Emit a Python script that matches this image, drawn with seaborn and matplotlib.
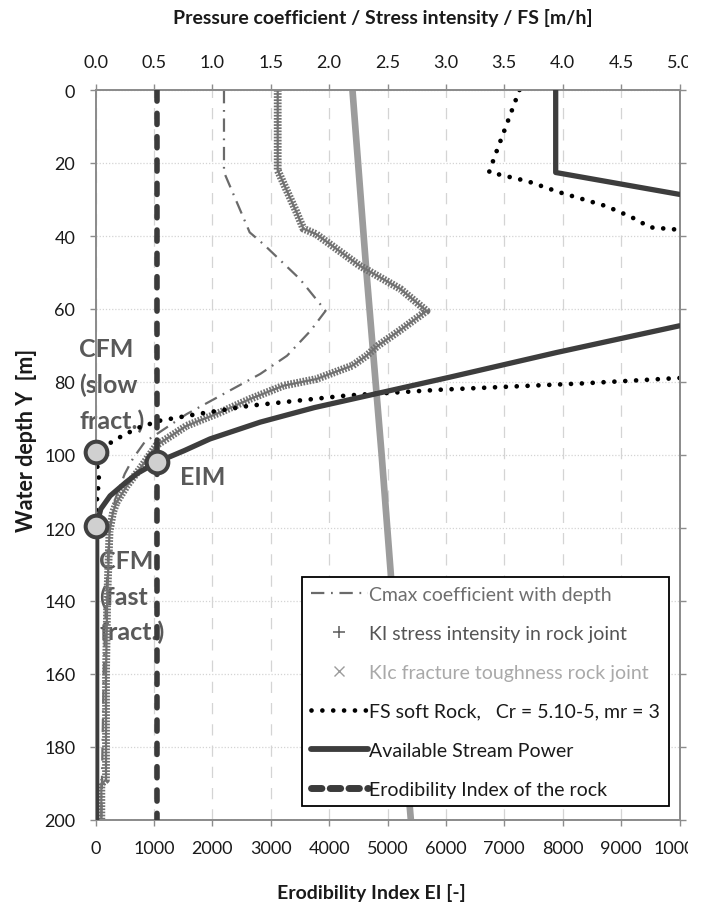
import numpy as np
import pandas as pd
import matplotlib
matplotlib.use("Agg")
import matplotlib.pyplot as plt
import seaborn as sns
from matplotlib.lines import Line2D
from matplotlib.transforms import Bbox, TransformedBbox

# ---------------- data ----------------
# Top axis series (Pressure coefficient / Stress intensity / FS)
cmax_depth = [0, 22.5, 39, 42.3, 51.8, 60.5, 66, 72.8, 77.8, 88.8, 96.5, 101, 105.2, 112, 120, 140, 160, 180, 200]
cmax_value = [1.10, 1.10, 1.32, 1.44, 1.75, 1.97, 1.84, 1.64, 1.41, 0.78, 0.42, 0.32, 0.25, 0.17, 0.12, 0.09, 0.07, 0.06, 0.05]

ki_depth = [0, 22, 33.4, 38, 39.5, 48.1, 54.5, 60.5, 66, 70, 72.8, 75.5, 79.2, 81, 84.7, 88.3, 92,
            97.4, 103.8, 108.4, 113, 115.7, 121, 140, 160, 189, 190, 200]
ki_value = [1.56, 1.56, 1.72, 1.78, 1.89, 2.26, 2.61, 2.835, 2.60, 2.42, 2.32, 2.20, 1.89, 1.61, 1.32, 1.07, 0.78,
            0.52, 0.38, 0.27, 0.18, 0.15, 0.12, 0.10, 0.09, 0.09, 0.05, 0.05]

kic_depth = [0, 50, 100, 150, 200]
kic_value = [2.20, 2.32, 2.45, 2.57, 2.70]

fs_depth_upper = [0, 6, 12, 18, 22.5, 25, 28, 31.8, 34.4, 35.8, 37.6, 38.3]
fs_value_upper = [3.63, 3.56, 3.49, 3.42, 3.37, 3.70, 3.97, 4.37, 4.56, 4.65, 4.74, 5.0]
fs_depth_lower = [78.9, 80.4, 82.1, 83.7, 86.5, 88.8, 90.6, 92.6, 95.6, 99.3, 106.6, 113, 119.4]
fs_value_lower = [5.0, 4.16, 2.96, 2.15, 1.32, 0.87, 0.55, 0.36, 0.18, 0.0, 0.03, 0.01, 0.0]

# Bottom axis series (Erodibility Index EI)
sp_depth_upper = [0, 22.6, 28.6]
sp_value_upper = [7880, 7880, 10000]
sp_depth_lower = [64.6, 71.9, 78.7, 83.3, 87.0, 91.0, 95.6, 98.8, 102, 105, 107.5, 111.2, 114.8, 119.4, 200]
sp_value_lower = [10000, 7900, 6060, 4780, 3750, 2820, 1960, 1520, 1048, 720, 520, 250, 90, 20, 20]

ei_depth = [0, 200]
ei_value = [1050, 1050]

point_ei = [0, 1050, 0]
point_depth = [99.3, 102.0, 119.4]

top_ticks = [0.0, 0.5, 1.0, 1.5, 2.0, 2.5, 3.0, 3.5, 4.0, 4.5, 5.0]
bottom_ticks = [0, 1000, 2000, 3000, 4000, 5000, 6000, 7000, 8000, 9000, 10000]
depth_ticks = [0, 20, 40, 60, 80, 100, 120, 140, 160, 180, 200]

# ---------------- style ----------------
sns.set_theme(style="white")
plt.rcParams["font.family"] = ["Lato", "DejaVu Sans"]

C_CMAX = "#6a6a6a"
C_KI = "#727272"
C_KIC = "#9c9c9c"
C_FS = "#000000"
C_SP = "#3d3d3d"
C_EI = "#3b3b3b"
C_AX = "#8c8c8c"
C_TXT = "#595959"

W, H = 708, 904
fig = plt.figure(figsize=(W / 100, H / 100), dpi=100)
L, R, T, B = 95.5, 679.5, 91, 821
ax = fig.add_axes([L / W, 1 - B / H, (R - L) / W, (B - T) / H])
ax2 = ax.twiny()


def seg_df(depths, values, seg):
    return pd.DataFrame({"depth": depths, "value": values, "seg": seg})


# ---- top-axis series on ax ----
sns.lineplot(data=seg_df(kic_depth, kic_value, 0), x="value", y="depth", sort=False, orient="y",
             estimator=None, color=C_KIC, lw=4.8, ax=ax, zorder=2)
sns.lineplot(data=seg_df(cmax_depth, cmax_value, 0), x="value", y="depth", sort=False, orient="y",
             estimator=None, color=C_CMAX, lw=1.6, ls=(0, (6, 3, 0.8, 3)), ax=ax, zorder=3)
ki_df = seg_df(ki_depth, ki_value, 0)
# dense "+" marker band: ladder of short strokes plus a thin core
sns.lineplot(data=ki_df, x="value", y="depth", sort=False, orient="y", estimator=None,
             color=C_KI, lw=5.6, ls=(0, (0.22, 0.18)), dash_capstyle="butt", ax=ax, zorder=3)
sns.lineplot(data=ki_df, x="value", y="depth", sort=False, orient="y", estimator=None,
             color=C_KI, lw=1.6, ax=ax, zorder=3)
fs_df = pd.concat([seg_df(fs_depth_upper, fs_value_upper, 0), seg_df(fs_depth_lower, fs_value_lower, 1)])
sns.lineplot(data=fs_df, x="value", y="depth", units="seg", sort=False, orient="y",
             estimator=None, color=C_FS, lw=3.4, ls=(0, (0.001, 2.3)), dash_capstyle="round",
             ax=ax, zorder=4)

# ---- EI-axis series on ax2 ----
sp_df = pd.concat([seg_df(sp_depth_upper, sp_value_upper, 0), seg_df(sp_depth_lower, sp_value_lower, 1)])
sns.lineplot(data=sp_df, x="value", y="depth", units="seg", sort=False, orient="y",
             estimator=None, color=C_SP, lw=3.8, ax=ax2, zorder=3)
sns.lineplot(data=seg_df(ei_depth, ei_value, 0), x="value", y="depth", sort=False, orient="y",
             estimator=None, color=C_EI, lw=4.0, ls=(0, (2.0, 2.2)), dash_capstyle="round",
             ax=ax2, zorder=3)
sns.scatterplot(x=point_ei, y=point_depth, s=15.6 ** 2, color="#d0d0d0", edgecolor="#404040",
                linewidth=2.9, ax=ax2, zorder=5, clip_on=False)

# ---- axes setup ----
ax.set_xlim(0, 5)
ax2.set_xlim(0, 10000)
ax.set_ylim(200, 0)
ax.xaxis.tick_top()
ax2.xaxis.tick_bottom()
ax.set_xticks(top_ticks)
ax.set_xticklabels([f"{t:.1f}" for t in top_ticks])
ax2.set_xticks(bottom_ticks)
ax2.set_xticklabels([str(t) for t in bottom_ticks])
ax.set_yticks(depth_ticks)
for a in (ax, ax2):
    a.set_xlabel("")
    a.set_ylabel("")

for a in (ax, ax2):
    for s in a.spines.values():
        s.set_color(C_AX)
        s.set_linewidth(1.3)
    a.tick_params(direction="out", length=4.5, width=1.0, color=C_AX, pad=10,
                  labelsize=13, labelcolor="#1a1a1a")
ax.tick_params(axis="y", left=True, right=True, labelleft=True, labelright=False)
ax.tick_params(axis="x", top=True, bottom=False, labeltop=True, labelbottom=False)
ax2.tick_params(axis="x", top=False, bottom=True, labeltop=False, labelbottom=True)

ax.grid(axis="x", color="#d4d4d4", lw=0.9, ls=(0, (9, 8)))
ax.grid(axis="y", color="#d4d4d4", lw=0.9, ls=(0, (1, 1.5)))
ax.set_axisbelow(True)

# ---- annotations ----
tk = dict(fontsize=18, fontweight="bold", color=C_TXT, ha="left", va="baseline", zorder=1.5)
ax.text(-0.141, 72.9, "CFM", **tk)
ax.text(-0.141, 82.8, "(slow", **tk)
ax.text(-0.141, 92.6, "fract.)", **tk)
ax.text(0.723, 108.0, "EIM", **tk)
ax.text(0.03, 131.0, "CFM", **tk)
ax.text(0.03, 140.8, "(fast", **tk)
ax.text(0.03, 150.4, "fract.)", **tk)

# ---- axis titles ----
fig.text(382.5 / W, 1 - 18 / H, "Pressure coefficient / Stress intensity / FS [m/h]",
         ha="center", va="center", fontsize=14, fontweight="bold", color="#1a1a1a")
fig.text(371 / W, 1 - 893 / H, "Erodibility Index EI [-]",
         ha="center", va="center", fontsize=14, fontweight="bold", color="#1a1a1a")
fig.text(27 / W, 1 - 440 / H, "Water depth Y  [m]", rotation=90,
         ha="center", va="center", fontsize=15.5, fontweight="bold", color="#1a1a1a")

# ---- legend ----
handles = [
    Line2D([], [], color=C_CMAX, lw=1.6, ls=(0, (6, 3, 0.8, 3))),
    Line2D([], [], color="#5a5a5a", marker="+", ls="none", ms=9, mew=1.1),
    Line2D([], [], color=C_KIC, marker="x", ls="none", ms=7, mew=1.0),
    Line2D([], [], color=C_FS, lw=3.4, ls=(0, (0.001, 2.3)), dash_capstyle="round"),
    Line2D([], [], color=C_SP, lw=4.2),
    Line2D([], [], color=C_EI, lw=5.0, ls=(0, (1.5, 1.2)), dash_capstyle="round"),
]
labels = [
    "Cmax coefficient with depth",
    "KI stress intensity in rock joint",
    "KIc fracture toughness rock joint",
    "FS soft Rock,   Cr = 5.10-5, mr = 3",
    "Available Stream Power",
    "Erodibility Index of the rock",
]
leg = ax2.legend(handles, labels, loc="upper left", bbox_to_anchor=(302 / W, 1 - 578 / H),
                 bbox_transform=fig.transFigure, borderaxespad=0, fontsize=14, frameon=True,
                 fancybox=False, framealpha=1, facecolor="white", edgecolor="black",
                 handlelength=2.95, handletextpad=0.06, labelspacing=1.13, borderpad=0.45)
leg.get_frame().set_linewidth(1.3)
leg.set_zorder(10)
for txt, col in zip(leg.get_texts(), ["#6e6e6e", "#555555", "#a9a9a9", "#1a1a1a", "#1a1a1a", "#1a1a1a"]):
    txt.set_color(col)

# ---- clip tick labels at right edge like the reference ----
fig.canvas.draw()
clipbox = TransformedBbox(Bbox([[0, 0], [688 / W, 1]]), fig.transFigure)
for a in (ax, ax2):
    for tck in a.xaxis.get_major_ticks():
        for lbl in (tck.label1, tck.label2):
            lbl.set_clip_box(clipbox)
            lbl.set_clip_on(True)

fig.savefig("out.png", dpi=100)
